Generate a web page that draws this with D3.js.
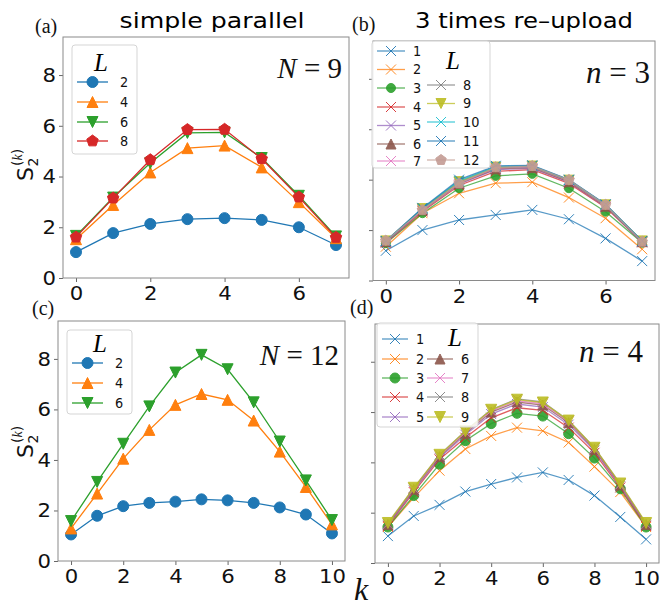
<!DOCTYPE html>
<html><head><meta charset="utf-8">
<script src="https://cdn.jsdelivr.net/npm/d3@7"></script>
<style>body{margin:0;background:#fff}</style>
</head><body><svg id="c" width="661" height="606" xmlns="http://www.w3.org/2000/svg"></svg>
<script>
// ---------------- DATA ----------------
const kN9 = [0,1,2,3,4,5,6,7];
const kN12 = [0,1,2,3,4,5,6,7,8,9,10];
const yTicks = [0,2,4,6,8];
const xTicksA = [0,2,4,6];
const xTicksC = [0,2,4,6,8,10];

// (a) simple parallel, N = 9
const aL2 = [1.02,1.77,2.13,2.32,2.36,2.29,2.00,1.30];
const aL4 = [1.53,2.88,4.16,5.12,5.22,4.36,2.99,1.57];
const aL6 = [1.66,3.17,4.53,5.72,5.74,4.73,3.24,1.64];
const aL8 = [1.61,3.15,4.66,5.85,5.86,4.70,3.19,1.60];
const aLabels = ["2","4","6","8"];

// (b) 3 times re-upload, n = 3
const bL1  = [1.18,2.00,2.40,2.60,2.80,2.43,1.67,0.77];
const bL2  = [1.34,2.67,3.46,3.86,3.90,3.29,2.47,1.24];
const bL3  = [1.48,2.67,3.66,4.15,4.23,3.66,2.73,1.50];
const bL4  = [1.50,2.74,3.77,4.33,4.40,3.85,2.90,1.52];
const bL5  = [1.52,2.78,3.82,4.40,4.45,3.90,2.93,1.52];
const bL6  = [1.54,2.80,3.85,4.43,4.48,3.92,2.95,1.54];
const bL7  = [1.55,2.82,3.88,4.46,4.51,3.95,2.97,1.55];
const bL8  = [1.56,2.84,3.90,4.48,4.52,3.97,2.99,1.56];
const bL9  = [1.57,2.85,3.92,4.50,4.54,3.98,3.00,1.57];
const bL10 = [1.56,2.86,3.95,4.52,4.55,3.99,3.01,1.56];
const bL11 = [1.57,2.88,4.00,4.55,4.57,4.00,3.02,1.57];
const bL12 = [1.58,2.80,3.85,4.49,4.54,3.99,3.00,1.54];

// (c) simple parallel, N = 12
const cL2 = [1.05,1.79,2.17,2.30,2.35,2.44,2.40,2.30,2.12,1.84,1.09];
const cL4 = [1.29,2.67,4.05,5.19,6.18,6.61,6.38,5.56,4.33,2.93,1.45];
const cL6 = [1.58,3.13,4.64,6.12,7.46,8.16,7.59,6.28,4.73,3.19,1.62];
const cLabels = ["2","4","6"];

// (d) n = 4
const dL1 = [1.07,1.87,2.31,2.84,3.14,3.40,3.60,3.30,2.68,1.83,0.94];
const dL2 = [1.43,2.60,3.67,4.53,5.05,5.38,5.25,4.79,3.83,2.82,1.43];
const dL3 = [1.43,2.68,3.93,4.86,5.54,5.95,5.84,5.14,4.17,2.95,1.43];
const dL4 = [1.47,2.82,4.12,4.98,5.77,6.17,6.07,5.38,4.38,3.00,1.47];
const dL5 = [1.50,2.88,4.18,5.10,5.92,6.32,6.20,5.50,4.47,3.06,1.50];
const dL6 = [1.53,2.93,4.23,5.16,6.00,6.40,6.28,5.58,4.52,3.10,1.53];
const dL7 = [1.55,2.95,4.26,5.20,6.05,6.45,6.33,5.62,4.55,3.12,1.55];
const dL8 = [1.56,2.98,4.30,5.25,6.10,6.52,6.40,5.66,4.58,3.14,1.56];
const dL9 = [1.59,2.99,4.30,5.24,6.09,6.49,6.38,5.66,4.58,3.16,1.59];

const tab = ["#1f77b4","#ff7f0e","#2ca02c","#d62728","#9467bd","#8c564b","#e377c2","#7f7f7f","#bcbd22","#17becf"];

// ---------------- DRAW ----------------
const svg = d3.select("#c");
const SANS = "DejaVu Sans, sans-serif";
const SERIF = "Liberation Serif, Times New Roman, serif";

function markerPath(type, r) {
  const p = d3.path();
  if (type === "o") { p.arc(0,0,r,0,2*Math.PI); p.closePath(); }
  else if (type === "^") { p.moveTo(0,-r); p.lineTo(r,r); p.lineTo(-r,r); p.closePath(); }
  else if (type === "v") { p.moveTo(0,r); p.lineTo(r,-r); p.lineTo(-r,-r); p.closePath(); }
  else if (type === "p") {
    for (let i=0;i<5;i++){ const a=-Math.PI/2+i*2*Math.PI/5; const px=r*Math.cos(a), py=r*Math.sin(a); if(i===0)p.moveTo(px,py); else p.lineTo(px,py);} p.closePath();
  }
  else if (type === "x") { p.moveTo(-r,-r); p.lineTo(r,r); p.moveTo(-r,r); p.lineTo(r,-r); }
  return p.toString();
}
function drawMarker(g, type, r, color, x, y, op) {
  const filled = type !== "x";
  g.append("path").attr("d", markerPath(type, r))
    .attr("transform", `translate(${x},${y})`)
    .attr("fill", filled ? color : "none")
    .attr("stroke", color).attr("stroke-width", 1)
    .attr("opacity", op);
}
function widen(sel, perChar) {
  sel.each(function() {
    const t = d3.select(this);
    const s = t.text();
    if (s.length) t.attr("textLength", perChar * s.length).attr("lengthAdjust", "spacingAndGlyphs");
  });
}

function panel(cfg) {
  const x = d3.scaleLinear().domain(cfg.xdom).range([cfg.x0, cfg.x1]);
  const y = d3.scaleLinear().domain([0, 9.5]).range([cfg.y1, cfg.y0]);
  const g = svg.append("g");
  // x axis
  const ax = g.append("g").attr("transform", `translate(0,${cfg.y1})`)
    .call(d3.axisBottom(x).tickValues(cfg.xticks).tickSize(4).tickPadding(3).tickFormat(d3.format("d")));
  ax.select(".domain").remove();
  ax.selectAll("line").attr("stroke", "#666");
  ax.selectAll("text").attr("font-family", SANS).attr("font-size", 20).attr("fill", "#111")
    .attr("dy", "0.75em");
  widen(ax.selectAll("text"), 13.5);
  const ay = g.append("g").attr("transform", `translate(${cfg.x0},0)`)
    .call(d3.axisLeft(y).tickValues(yTicks).tickSize(4).tickPadding(3).tickFormat(cfg.ylabels ? d3.format("d") : ""));
  ay.select(".domain").remove();
  ay.selectAll("line").attr("stroke", "#666");
  ay.selectAll("text").attr("font-family", SANS).attr("font-size", 20).attr("fill", "#111");
  widen(ay.selectAll("text"), 13.5);
  // series
  const line = d3.line().x((d,i) => x(cfg.k[i])).y(d => y(d));
  cfg.series.forEach(s => {
    const sg = g.append("g");
    sg.append("path").attr("d", line(s.v)).attr("fill","none").attr("stroke", s.c)
      .attr("stroke-width", 1.3).attr("opacity", cfg.lop);
    s.v.forEach((v,i) => drawMarker(sg, s.m, s.r, s.c, x(cfg.k[i]), y(v), cfg.mop));
  });
  // frame
  g.append("rect").attr("x", cfg.x0).attr("y", cfg.y0).attr("width", cfg.x1-cfg.x0).attr("height", cfg.y1-cfg.y0)
    .attr("fill","none").attr("stroke","#8a8a8a").attr("stroke-width",1);
  // legend
  const lg = cfg.legend;
  g.append("rect").attr("x", lg.bx).attr("y", lg.by).attr("width", lg.bw).attr("height", lg.bh)
    .attr("rx", 3).attr("fill", "#fff").attr("fill-opacity", 0.85).attr("stroke", "#d5d5d5");
  g.append("text").attr("x", lg.tx).attr("y", lg.ty).attr("text-anchor","middle")
    .attr("font-family", SERIF).attr("font-style","italic").attr("font-size", 25).text("L");
  lg.items.forEach(it => {
    const s = cfg.series[it.i];
    g.append("line").attr("x1", it.x).attr("x2", it.x + lg.lw).attr("y1", it.y).attr("y2", it.y)
      .attr("stroke", s.c).attr("stroke-width", 1.3).attr("opacity", cfg.lop);
    drawMarker(g, s.m, s.r, s.c, it.x + lg.lw/2, it.y, cfg.mop);
    const t = g.append("text").attr("x", it.x + lg.lw + lg.gap).attr("y", it.y).attr("dy","0.36em")
      .attr("font-family", SANS).attr("font-size", 13.5).attr("fill","#111").text(s.label);
    widen(t, 8.2);
  });
}

// (a)
panel({
  x0:63, x1:349, y0:37, y1:278, xdom:[-0.35,7.35], xticks:xTicksA, k:kN9, ylabels:true, lop:1, mop:1,
  series:[
    {v:aL2, c:tab[0], m:"o", r:5.5, label:aLabels[0]},
    {v:aL4, c:tab[1], m:"^", r:5.5, label:aLabels[1]},
    {v:aL6, c:tab[2], m:"v", r:5.5, label:aLabels[2]},
    {v:aL8, c:tab[3], m:"p", r:6, label:aLabels[3]}
  ],
  legend:{bx:72, by:45, bw:65, bh:109, tx:101, ty:71, lw:31, gap:12,
    items:[{i:0,x:77,y:82},{i:1,x:77,y:102},{i:2,x:77,y:122},{i:3,x:77,y:141}]}
});

// (b)
const bSeries = [
  {v:bL1, c:tab[0], m:"x", r:5, label:"1"},
  {v:bL2, c:tab[1], m:"x", r:5, label:"2"},
  {v:bL3, c:tab[2], m:"o", r:4.5, label:"3"},
  {v:bL4, c:tab[3], m:"x", r:5, label:"4"},
  {v:bL5, c:tab[4], m:"x", r:5, label:"5"},
  {v:bL6, c:tab[5], m:"^", r:5, label:"6"},
  {v:bL7, c:tab[6], m:"x", r:5, label:"7"},
  {v:bL8, c:tab[7], m:"x", r:5, label:"8"},
  {v:bL9, c:tab[8], m:"v", r:5, label:"9"},
  {v:bL10, c:tab[9], m:"x", r:5, label:"10"},
  {v:bL11, c:tab[0], m:"x", r:5, label:"11"},
  {v:bL12, c:"#c49c94", m:"p", r:5.5, label:"12"}
];
panel({
  x0:373, x1:655, y0:41, y1:280.5, xdom:[-0.35,7.35], xticks:xTicksA, k:kN9, ylabels:false, lop:0.75, mop:0.9,
  series:bSeries,
  legend:{bx:372, by:41, bw:118, bh:127, tx:453, ty:69, lw:28, gap:8,
    items:[{i:0,x:377,y:51},{i:1,x:377,y:69.5},{i:2,x:377,y:88},{i:3,x:377,y:107},{i:4,x:377,y:125.5},{i:5,x:377,y:144},{i:6,x:377,y:161},
           {i:7,x:427,y:85},{i:8,x:427,y:103.5},{i:9,x:427,y:122},{i:10,x:427,y:141},{i:11,x:427,y:160}]}
});

// (c)
panel({
  x0:58, x1:345, y0:321, y1:561, xdom:[-0.5,10.5], xticks:xTicksC, k:kN12, ylabels:true, lop:1, mop:1,
  series:[
    {v:cL2, c:tab[0], m:"o", r:5.5, label:cLabels[0]},
    {v:cL4, c:tab[1], m:"^", r:5.5, label:cLabels[1]},
    {v:cL6, c:tab[2], m:"v", r:5.5, label:cLabels[2]}
  ],
  legend:{bx:67, by:330, bw:65, bh:84, tx:100, ty:352, lw:31, gap:12,
    items:[{i:0,x:72,y:363},{i:1,x:72,y:383},{i:2,x:72,y:403}]}
});

// (d)
const dSeries = [
  {v:dL1, c:tab[0], m:"x", r:5, label:"1"},
  {v:dL2, c:tab[1], m:"x", r:5, label:"2"},
  {v:dL3, c:tab[2], m:"o", r:5, label:"3"},
  {v:dL4, c:tab[3], m:"x", r:5, label:"4"},
  {v:dL5, c:tab[4], m:"x", r:5, label:"5"},
  {v:dL6, c:tab[5], m:"^", r:5, label:"6"},
  {v:dL7, c:tab[6], m:"x", r:5, label:"7"},
  {v:dL8, c:tab[7], m:"x", r:5, label:"8"},
  {v:dL9, c:tab[8], m:"v", r:5.5, label:"9"}
];
panel({
  x0:375, x1:659, y0:324, y1:563, xdom:[-0.5,10.5], xticks:xTicksC, k:kN12, ylabels:false, lop:0.75, mop:0.9,
  series:dSeries,
  legend:{bx:377, by:323, bw:101, bh:104, tx:455, ty:346, lw:26, gap:8,
    items:[{i:0,x:382,y:339},{i:1,x:382,y:359},{i:2,x:382,y:378},{i:3,x:382,y:397},{i:4,x:382,y:417},
           {i:5,x:427,y:359},{i:6,x:427,y:378},{i:7,x:427,y:397},{i:8,x:427,y:417}]}
});

// titles
svg.append("text").attr("x", 212).attr("y", 28).attr("text-anchor","middle").attr("font-family", SANS)
  .attr("font-size", 22).attr("textLength", 185).attr("lengthAdjust","spacingAndGlyphs").text("simple parallel");
svg.append("text").attr("x", 524).attr("y", 28).attr("text-anchor","middle").attr("font-family", SANS)
  .attr("font-size", 22).attr("textLength", 218).attr("lengthAdjust","spacingAndGlyphs").text("3 times re–upload");

// panel tags
[["(a)",35,33],["(b)",352,31],["(c)",32,315],["(d)",350,314]].forEach(([t,x,y]) => {
  svg.append("text").attr("x",x).attr("y",y).attr("font-family",SERIF).attr("font-size",20).attr("fill","#111").text(t);
});

// annotations
function annot(varName, rest, xEnd, yBase, size) {
  const t = svg.append("text").attr("x", xEnd).attr("y", yBase).attr("text-anchor","end")
    .attr("font-family", SERIF).attr("font-size", size).attr("fill","#111");
  t.append("tspan").attr("font-style","italic").text(varName);
  t.append("tspan").text(rest);
}
annot("N", " = 9", 342, 78, 29);
annot("n", " = 3", 650, 83, 31);
annot("N", " = 12", 339, 365, 29);
annot("n", " = 4", 643, 362, 31);

// y labels S_2^(k)
function ylab(cx, cy) {
  const g = svg.append("g").attr("transform", `translate(${cx},${cy}) rotate(-90)`);
  g.append("text").attr("x",0).attr("y",0).attr("font-family",SANS).attr("font-size",22).attr("fill","#111").text("S");
  g.append("text").attr("x",14.5).attr("y",5).attr("font-family",SANS).attr("font-size",14).attr("fill","#111").text("2");
  const sup = g.append("text").attr("x",15).attr("y",-11).attr("font-family",SANS).attr("font-size",14).attr("fill","#111");
  sup.append("tspan").text("(");
  sup.append("tspan").attr("font-family",SERIF).attr("font-style","italic").text("k");
  sup.append("tspan").text(")");
}
ylab(33, 181);
ylab(33, 458);

// x label k
svg.append("text").attr("x", 361).attr("y", 600).attr("text-anchor","middle").attr("font-family",SERIF)
  .attr("font-style","italic").attr("font-size",32).attr("fill","#111").text("k");
</script>
</body></html>
